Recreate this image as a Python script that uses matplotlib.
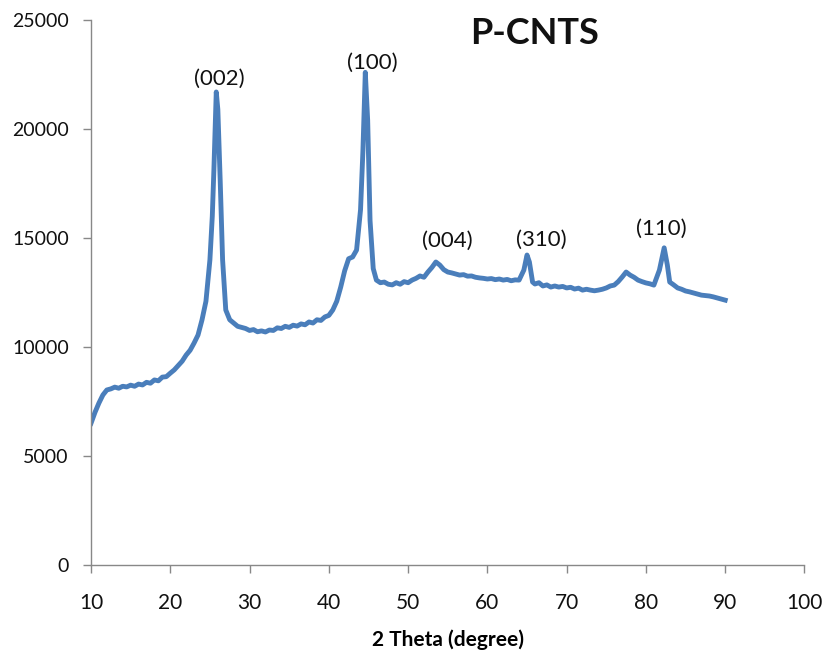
import matplotlib.pyplot as plt

# XRD pattern
two_theta = [10, 10.5, 11, 11.5, 12, 12.5, 13, 13.5, 14, 14.5,
             15, 15.5, 16, 16.5, 17, 17.5, 18, 18.5, 19, 19.5,
             20, 20.5, 21, 21.5, 22, 22.5, 23, 23.5, 24, 24.5,
             25, 25.3, 25.5, 25.8, 26, 26.3, 26.6, 27, 27.5, 28,
             28.5, 29, 29.5, 30, 30.5, 31, 31.5, 32, 32.5, 33,
             33.5, 34, 34.5, 35, 35.5, 36, 36.5, 37, 37.5, 38,
             38.5, 39, 39.5, 40, 40.5, 41, 41.5, 42, 42.5, 43,
             43.5, 44, 44.3, 44.6, 44.9, 45.2, 45.6, 46, 46.5, 47,
             47.5, 48, 48.5, 49, 49.5, 50, 50.5, 51, 51.5, 52,
             52.5, 53, 53.5, 54, 54.5, 55, 55.5, 56, 56.5, 57,
             57.5, 58, 58.5, 59, 59.5, 60, 60.5, 61, 61.5, 62,
             62.5, 63, 63.5, 64, 64.6, 65, 65.3, 65.7, 66, 66.5,
             67, 67.5, 68, 68.5, 69, 69.5, 70, 70.5, 71, 71.5,
             72, 72.5, 73, 73.5, 74, 74.5, 75, 75.5, 76, 76.5,
             77, 77.5, 78, 78.5, 79, 79.5, 80, 80.5, 81, 81.7,
             82.3, 82.7, 83, 83.5, 84, 84.5, 85, 85.5, 86, 86.5,
             87, 87.5, 88, 88.5, 89, 89.5, 90]
intensity = [6500, 7000, 7430, 7800, 8030, 8080, 8160, 8110, 8200, 8170,
             8250, 8200, 8300, 8260, 8380, 8340, 8490, 8450, 8620, 8640,
             8800, 8950, 9150, 9350, 9630, 9850, 10180, 10550, 11240, 12100,
             14000, 16000, 18100, 21700, 20900, 17600, 14000, 11700, 11250, 11100,
             10950, 10900, 10850, 10760, 10800, 10700, 10740, 10690, 10780, 10760,
             10880, 10850, 10950, 10900, 11000, 10960, 11060, 11020, 11150, 11100,
             11250, 11220, 11380, 11450, 11700, 12100, 12750, 13500, 14050, 14130,
             14450, 16300, 19000, 22600, 20400, 15800, 13600, 13070, 12950, 12980,
             12880, 12850, 12950, 12880, 13000, 12950, 13070, 13150, 13260, 13200,
             13440, 13650, 13900, 13760, 13550, 13440, 13400, 13350, 13300, 13320,
             13250, 13260, 13200, 13170, 13150, 13120, 13140, 13090, 13120, 13070,
             13100, 13040, 13080, 13070, 13530, 14220, 13900, 12980, 12890, 12950,
             12800, 12850, 12750, 12800, 12750, 12780, 12710, 12740, 12660, 12700,
             12610, 12650, 12610, 12580, 12610, 12650, 12710, 12800, 12840, 13000,
             13210, 13440, 13300, 13200, 13070, 13000, 12940, 12900, 12840, 13530,
             14550, 13760, 12980, 12850, 12710, 12650, 12570, 12530, 12480, 12430,
             12380, 12360, 12340, 12300, 12250, 12200, 12150]

# peak labels (centre of each label)
peak_labels = ['(002)', '(100)', '(004)', '(310)', '(110)']
peak_x = [26.2, 45.5, 54.9, 66.8, 81.9]
peak_y = [22300, 23050, 14850, 14900, 15400]

plt.rcParams['font.family'] = ['Lato', 'DejaVu Sans']

fig = plt.figure(figsize=(8.22, 6.52), dpi=100)
ax = fig.add_axes([0.1107, 0.1334, 0.868, 0.8359])

ax.plot(two_theta, intensity, color='#4a7ebb', linewidth=3.5)

for lab, px, py in zip(peak_labels, peak_x, peak_y):
    ax.text(px, py, lab, ha='center', va='center', fontsize=16, color='#111111')

ax.set_xlim(10, 100)
ax.set_ylim(0, 25000)
ax.set_xticks(range(10, 101, 10))
ax.set_yticks(range(0, 25001, 5000))

for s in ['top', 'right']:
    ax.spines[s].set_visible(False)
for s in ['left', 'bottom']:
    ax.spines[s].set_color('#888888')
    ax.spines[s].set_linewidth(1.0)

ax.tick_params(axis='both', direction='out', length=6, width=1, color='#888888',
               labelcolor='#111111')
ax.tick_params(axis='y', labelsize=14, pad=10)
ax.tick_params(axis='x', labelsize=15, pad=14)

ax.set_xlabel('2 Theta (degree)', fontsize=15, fontweight='bold', labelpad=12)
ax.text(0.622, 0.975, 'P-CNTS', transform=ax.transAxes, ha='center', va='center',
        fontsize=26, fontweight='bold', color='#111111')

fig.savefig('out.png', dpi=100)
